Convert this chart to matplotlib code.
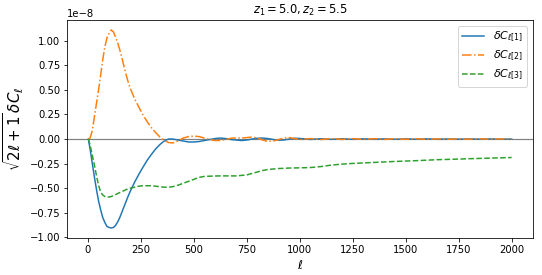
import numpy as np
import matplotlib.pyplot as plt

# multipole values and the three curves (units of 1e-8)
ell = [2, 10, 20, 30, 40, 50, 60, 70, 80, 90, 100, 110, 120, 130, 140, 150,
       160, 170, 180, 190, 200, 220, 240, 260, 280, 300, 320, 340, 360, 380,
       400, 425, 450, 475, 500, 525, 550, 575, 600, 625, 650, 675, 700, 725,
       750, 775, 800, 825, 850, 875, 900, 925, 950, 975, 1000, 1050, 1100,
       1150, 1200, 1250, 1300, 1350, 1400, 1450, 1500, 1550, 1600, 1650, 1700,
       1750, 1800, 1850, 1900, 1950, 2000]

dC1 = [0.0, -0.10, -0.24, -0.38, -0.51, -0.63, -0.72, -0.80, -0.85, -0.89,
       -0.90, -0.905, -0.90, -0.88, -0.845, -0.80, -0.745, -0.69, -0.635, -0.58,
       -0.53, -0.44, -0.36, -0.285, -0.215, -0.155, -0.10, -0.055, -0.02, 0.0,
       0.0, -0.01, -0.02, -0.03, -0.03, -0.025, -0.015, -0.005, 0.005, 0.01,
       0.005, -0.005, -0.01, -0.015, -0.01, 0.0, 0.008, 0.01, 0.005, -0.005,
       -0.012, -0.01, 0.0, 0.008, 0.006, -0.004, 0.003, -0.003, 0.003, -0.003,
       0.002, -0.002, 0.002, -0.002, 0.002, -0.002, 0.002, -0.002, 0.001,
       -0.001, 0.001, -0.001, 0.001, -0.001, 0.0]

dC2 = [0.0, 0.01, 0.08, 0.22, 0.36, 0.50, 0.65, 0.81, 0.94, 1.03,
       1.08, 1.11, 1.09, 1.04, 0.98, 0.91, 0.83, 0.74, 0.655, 0.58,
       0.515, 0.41, 0.325, 0.245, 0.175, 0.115, 0.065, 0.02, -0.015, -0.035,
       -0.04, -0.02, 0.01, 0.025, 0.03, 0.025, 0.01, -0.005, -0.015, -0.015,
       -0.005, 0.008, 0.012, 0.01, 0.015, 0.02, 0.01, -0.01, -0.025, -0.02,
       -0.005, 0.01, 0.015, 0.005, -0.005, 0.005, -0.005, 0.005, -0.004, 0.004,
       -0.004, 0.004, -0.003, 0.003, -0.003, 0.003, -0.003, 0.002, -0.002,
       0.002, -0.002, 0.002, -0.002, 0.001, 0.0]

dC3 = [0.0, -0.06, -0.16, -0.26, -0.37, -0.47, -0.54, -0.57, -0.585, -0.59,
       -0.59, -0.585, -0.575, -0.565, -0.555, -0.545, -0.535, -0.525, -0.515,
       -0.505, -0.50, -0.49, -0.48, -0.475, -0.475, -0.475, -0.48, -0.485,
       -0.49, -0.49, -0.485, -0.47, -0.45, -0.43, -0.41, -0.39, -0.38,
       -0.378, -0.376, -0.375, -0.375, -0.375, -0.375, -0.37, -0.365, -0.35,
       -0.335, -0.32, -0.31, -0.305, -0.30, -0.298, -0.295, -0.294, -0.293,
       -0.29, -0.28, -0.265, -0.255, -0.248, -0.243, -0.238, -0.233, -0.228,
       -0.224, -0.22, -0.215, -0.21, -0.207, -0.204, -0.2, -0.197, -0.194,
       -0.191, -0.188]

z1, z2 = 5.0, 5.5

fig, ax = plt.subplots(figsize=(542 / 72, 275 / 72), dpi=72)
fig.subplots_adjust(left=0.124, right=0.983, top=0.927, bottom=0.135)

ell = np.array(ell)
ax.plot(ell, np.array(dC1) * 1e-8, '-', label=r'$\delta C_{\ell[1]}$')
ax.plot(ell, np.array(dC2) * 1e-8, '-.', label=r'$\delta C_{\ell[2]}$')
ax.plot(ell, np.array(dC3) * 1e-8, '--', label=r'$\delta C_{\ell[3]}$')
ax.axhline(0, color='gray', lw=1.2, zorder=0)

ax.set_xticks(np.arange(0, 2001, 250))
ax.set_yticks(np.arange(-1.0, 1.01, 0.25) * 1e-8)
ax.set_xlabel(r'$\ell$', fontsize=12)
ax.set_ylabel(r'$\sqrt{2\ell+1}\,\delta C_\ell$', fontsize=15)
ax.set_title(rf'$z_1 = {z1}, z_2 = {z2}$', fontsize=11.5)
ax.legend(loc='upper right', fontsize=11, labelspacing=0.45)

fig.savefig('out.png', dpi=72)
